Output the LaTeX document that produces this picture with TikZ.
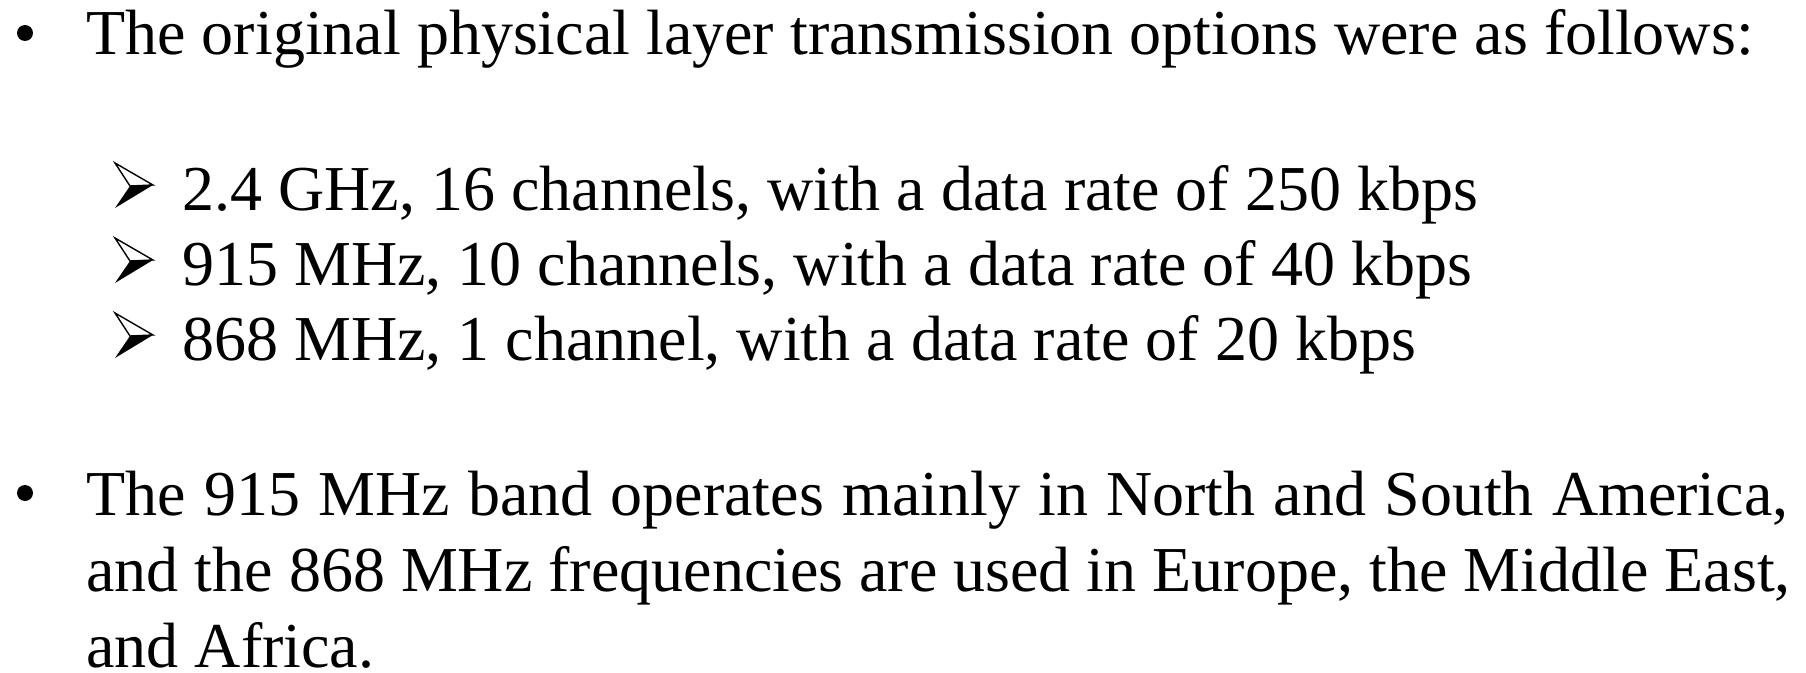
\documentclass[tikz,border=0pt]{standalone}
\usepackage{fontspec}
\setmainfont{Liberation Serif}
\usetikzlibrary{positioning}

\begin{document}
\begin{tikzpicture}[x=0.5bp, y=-0.5bp,
  txt/.style={anchor=base west, inner sep=0pt, font=\fontsize{32bp}{38.4bp}\selectfont},
  dot/.style={circle, fill, inner sep=0pt, minimum size=8bp},
  arrowhead/.pic={
    \fill (0,-2) -- (38,-25) -- (15,-24) -- cycle;
    \draw[line width=0.7bp, line join=miter] (0,-47) -- (38,-25) -- (15,-24) -- cycle;
  }]
  \useasboundingbox (0,0) rectangle (1806,673);
  % first bullet
  \node[dot] (b1) at (25,33) {};
  \node[txt] (l1) at (86,55) {The original physical layer transmission options were as follows:};
  % sub items
  \pic at (115,210) {arrowhead};
  \node[txt] (s1) at (182,210) {2.4 GHz, 16 channels, with a data rate of 250 kbps};
  \pic at (115,285) {arrowhead};
  \node[txt] (s2) at (182,285) {915 MHz, 10 channels, with a data rate of 40 kbps};
  \pic at (115,360) {arrowhead};
  \node[txt] (s3) at (182,360) {868 MHz, 1 channel, with a data rate of 20 kbps};
  % second bullet, justified like the slide
  \node[dot] (b2) at (25,493) {};
  \node[txt] (l2a) at (86,515) {\hbox to 851bp{The 915 MHz band operates mainly in North and South America,}};
  \node[txt] (l2b) at (86,591) {and the 868 MHz frequencies are used in Europe, the Middle East,};
  \node[txt] (l2c) at (86,667) {and Africa.};
\end{tikzpicture}
\end{document}
